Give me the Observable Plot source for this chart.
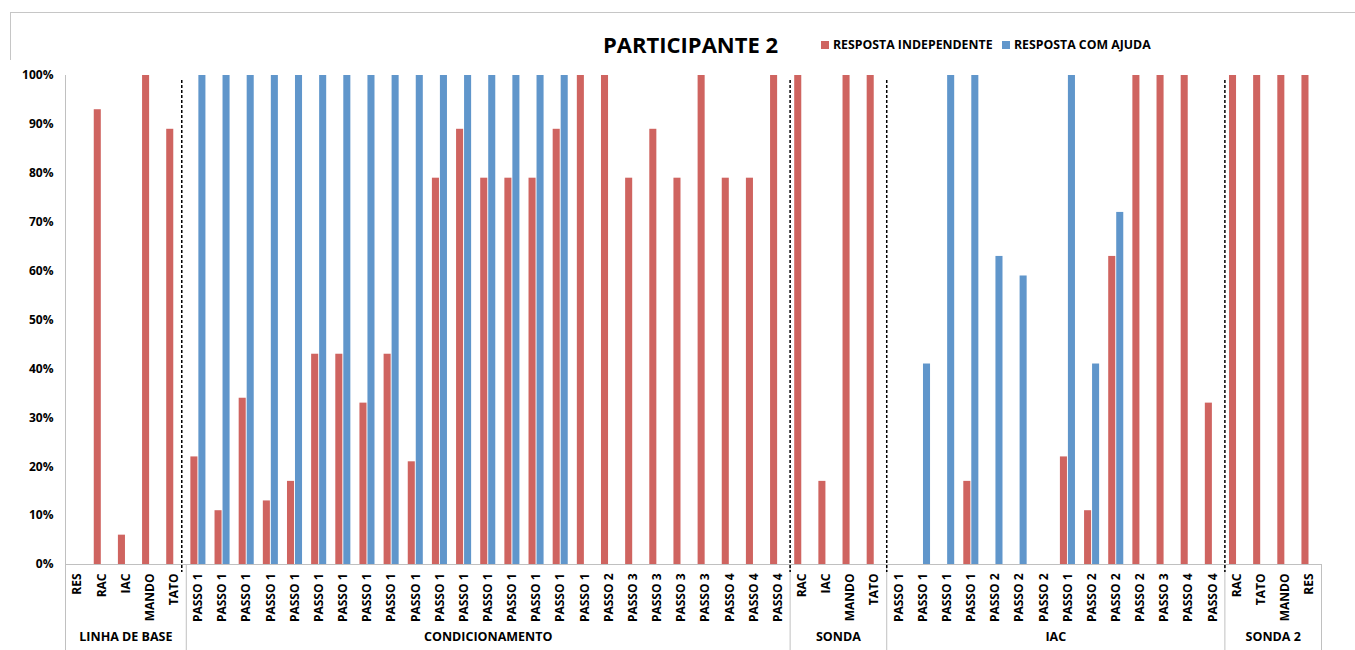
<!DOCTYPE html>
<html><head><meta charset="utf-8">
<script src="https://cdn.jsdelivr.net/npm/d3@7"></script>
<script src="https://cdn.jsdelivr.net/npm/@observablehq/plot@0.6"></script>
<style>
body{margin:0;background:#fff;font-family:"Open Sans",sans-serif;color:#000;}
#wrap{position:relative;width:1355px;height:650px;overflow:hidden;background:#fff;}
#frame{position:absolute;left:10px;top:12px;width:1360px;height:650px;border-left:1px solid #c6c6c6;border-top:1px solid #c6c6c6;}
#title{position:absolute;left:603px;top:33px;font-size:22px;font-weight:700;line-height:22px;white-space:nowrap;}
.leg{position:absolute;top:38px;font-size:12.3px;font-weight:700;line-height:13px;white-space:nowrap;display:flex;align-items:center;}
.sw{display:inline-block;width:8px;height:8px;margin-right:4px;}
#chart{position:absolute;left:0;top:60px;}
</style></head>
<body><div id="wrap"><div id="frame"></div><div id="title">PARTICIPANTE 2</div><div id="legend"></div><div id="chart"></div></div>
<script>
// ---- data ----
const groupNames = ["LINHA DE BASE", "CONDICIONAMENTO", "SONDA", "IAC", "SONDA 2"];
const baseLabels = ["RES", "RAC", "IAC", "MANDO", "TATO"];
const condLabels = ["PASSO 1","PASSO 1","PASSO 1","PASSO 1","PASSO 1","PASSO 1","PASSO 1","PASSO 1","PASSO 1","PASSO 1","PASSO 1","PASSO 1","PASSO 1","PASSO 1","PASSO 1","PASSO 1","PASSO 1","PASSO 2","PASSO 3","PASSO 3","PASSO 3","PASSO 3","PASSO 4","PASSO 4","PASSO 4"];
const sondaLabels = ["RAC", "IAC", "MANDO", "TATO"];
const iacLabels = ["PASSO 1","PASSO 1","PASSO 1","PASSO 1","PASSO 2","PASSO 2","PASSO 2","PASSO 1","PASSO 2","PASSO 2","PASSO 2","PASSO 3","PASSO 4","PASSO 4"];
const sonda2Labels = ["RAC", "TATO", "MANDO", "RES"];

const seriesNames = ["RESPOSTA INDEPENDENTE", "RESPOSTA COM AJUDA"];
const seriesColors = ["#CF6460", "#6096CB"];

// percentages, one per category, in order of the groups above
const independente = [
  0, 93, 6, 100, 89,
  22, 11, 34, 13, 17, 43, 43, 33, 43, 21, 79, 89, 79, 79, 79, 89, 100, 100, 79, 89, 79, 100, 79, 79, 100,
  100, 17, 100, 100,
  0, 0, 0, 17, 0, 0, 0, 22, 11, 63, 100, 100, 100, 33,
  100, 100, 100, 100
];
const comAjuda = [
  0, 0, 0, 0, 0,
  100, 100, 100, 100, 100, 100, 100, 100, 100, 100, 100, 100, 100, 100, 100, 100, 0, 0, 0, 0, 0, 0, 0, 0, 0,
  0, 0, 0, 0,
  0, 41, 100, 100, 63, 59, 0, 100, 41, 72, 0, 0, 0, 0,
  0, 0, 0, 0
];
const yTicks = [0, 0.1, 0.2, 0.3, 0.4, 0.5, 0.6, 0.7, 0.8, 0.9, 1];

// ---- build ----
const groupLabels = [baseLabels, condLabels, sondaLabels, iacLabels, sonda2Labels];
const labels = groupLabels.flat();
const n = labels.length;
const idx = d3.range(n);

const W = 1355, H = 590, ML = 65, MR = 34, MT = 15, MB = 86;
const bw = (W - ML - MR) / n;

const indRows = idx.filter(i => independente[i] > 0).map(i => ({i, v: independente[i] / 100}));
const ajuRows = idx.filter(i => comAjuda[i] > 0).map(i => ({i, v: comAjuda[i] / 100}));

let start = 0;
const groups = groupLabels.map((g, k) => {
  const o = {name: groupNames[k], start, size: g.length};
  start += g.length;
  return o;
});
const oddGroups = groups.filter(g => g.size % 2 === 1).map(g => ({name: g.name, x: g.start + (g.size - 1) / 2}));
const evenGroups = groups.filter(g => g.size % 2 === 0).map(g => ({name: g.name, x: g.start + g.size / 2 - 1}));
const inner = groups.slice(1).map(g => g.start);

const gray = "#c0c0c0";
const chart = Plot.plot({
  width: W, height: H,
  marginLeft: ML, marginRight: MR, marginTop: MT, marginBottom: MB,
  style: {fontFamily: "Open Sans, sans-serif", fontSize: "12px", fontWeight: "bold", color: "#000", background: "#fff", overflow: "visible"},
  x: {type: "band", domain: idx, padding: 0, round: false},
  y: {domain: [0, 1]},
  marks: [
    Plot.barY(indRows, {x: "i", y: "v", fill: seriesColors[0], insetLeft: 4.6, insetRight: 12.5}),
    Plot.barY(ajuRows, {x: "i", y: "v", fill: seriesColors[1], insetLeft: 12.6, insetRight: 4.5}),
    Plot.ruleY([0], {stroke: gray, strokeWidth: 1}),
    Plot.ruleX([0], {x: d => d, stroke: gray, dx: -bw / 2, insetBottom: -MB}),
    Plot.ruleX(inner, {x: d => d, stroke: gray, dx: -bw / 2, insetTop: H - MT - MB, insetBottom: -MB}),
    Plot.ruleX([n - 1], {x: d => d, stroke: gray, dx: bw / 2, insetTop: H - MT - MB, insetBottom: -MB}),
    Plot.ruleX(inner.slice(0, 1), {x: d => d, stroke: "#000", strokeWidth: 1.5, strokeDasharray: "3,2", dx: -bw / 2 - 4.5, insetTop: 5, insetBottom: -8}),
    Plot.ruleX(inner.slice(1), {x: d => d, stroke: "#000", strokeWidth: 1.5, strokeDasharray: "3,2", dx: -bw / 2, insetTop: 5, insetBottom: -8}),
    Plot.axisX({tickFormat: i => labels[i], tickRotate: -90, tickSize: 0, tickPadding: 9, fontSize: 12, fontWeight: "bold", label: null}),
    Plot.axisY({ticks: yTicks, tickFormat: d3.format(".0%"), tickSize: 0, tickPadding: 12, fontSize: 12, fontWeight: "bold", label: null}),
    Plot.text(oddGroups, {x: "x", text: "name", frameAnchor: "bottom", dy: 76, fontSize: 12.5, fontWeight: "bold"}),
    Plot.text(evenGroups, {x: "x", text: "name", frameAnchor: "bottom", dy: 76, dx: bw / 2, fontSize: 12.5, fontWeight: "bold"})
  ]
});
document.getElementById("chart").appendChild(chart);

// legend
const legend = document.getElementById("legend");
const legX = [821, 1002];
seriesNames.forEach((name, k) => {
  const d = document.createElement("div");
  d.className = "leg";
  d.style.left = legX[k] + "px";
  d.innerHTML = `<span class="sw" style="background:${seriesColors[k]}"></span>${name}`;
  legend.appendChild(d);
});
</script>
</body></html>
